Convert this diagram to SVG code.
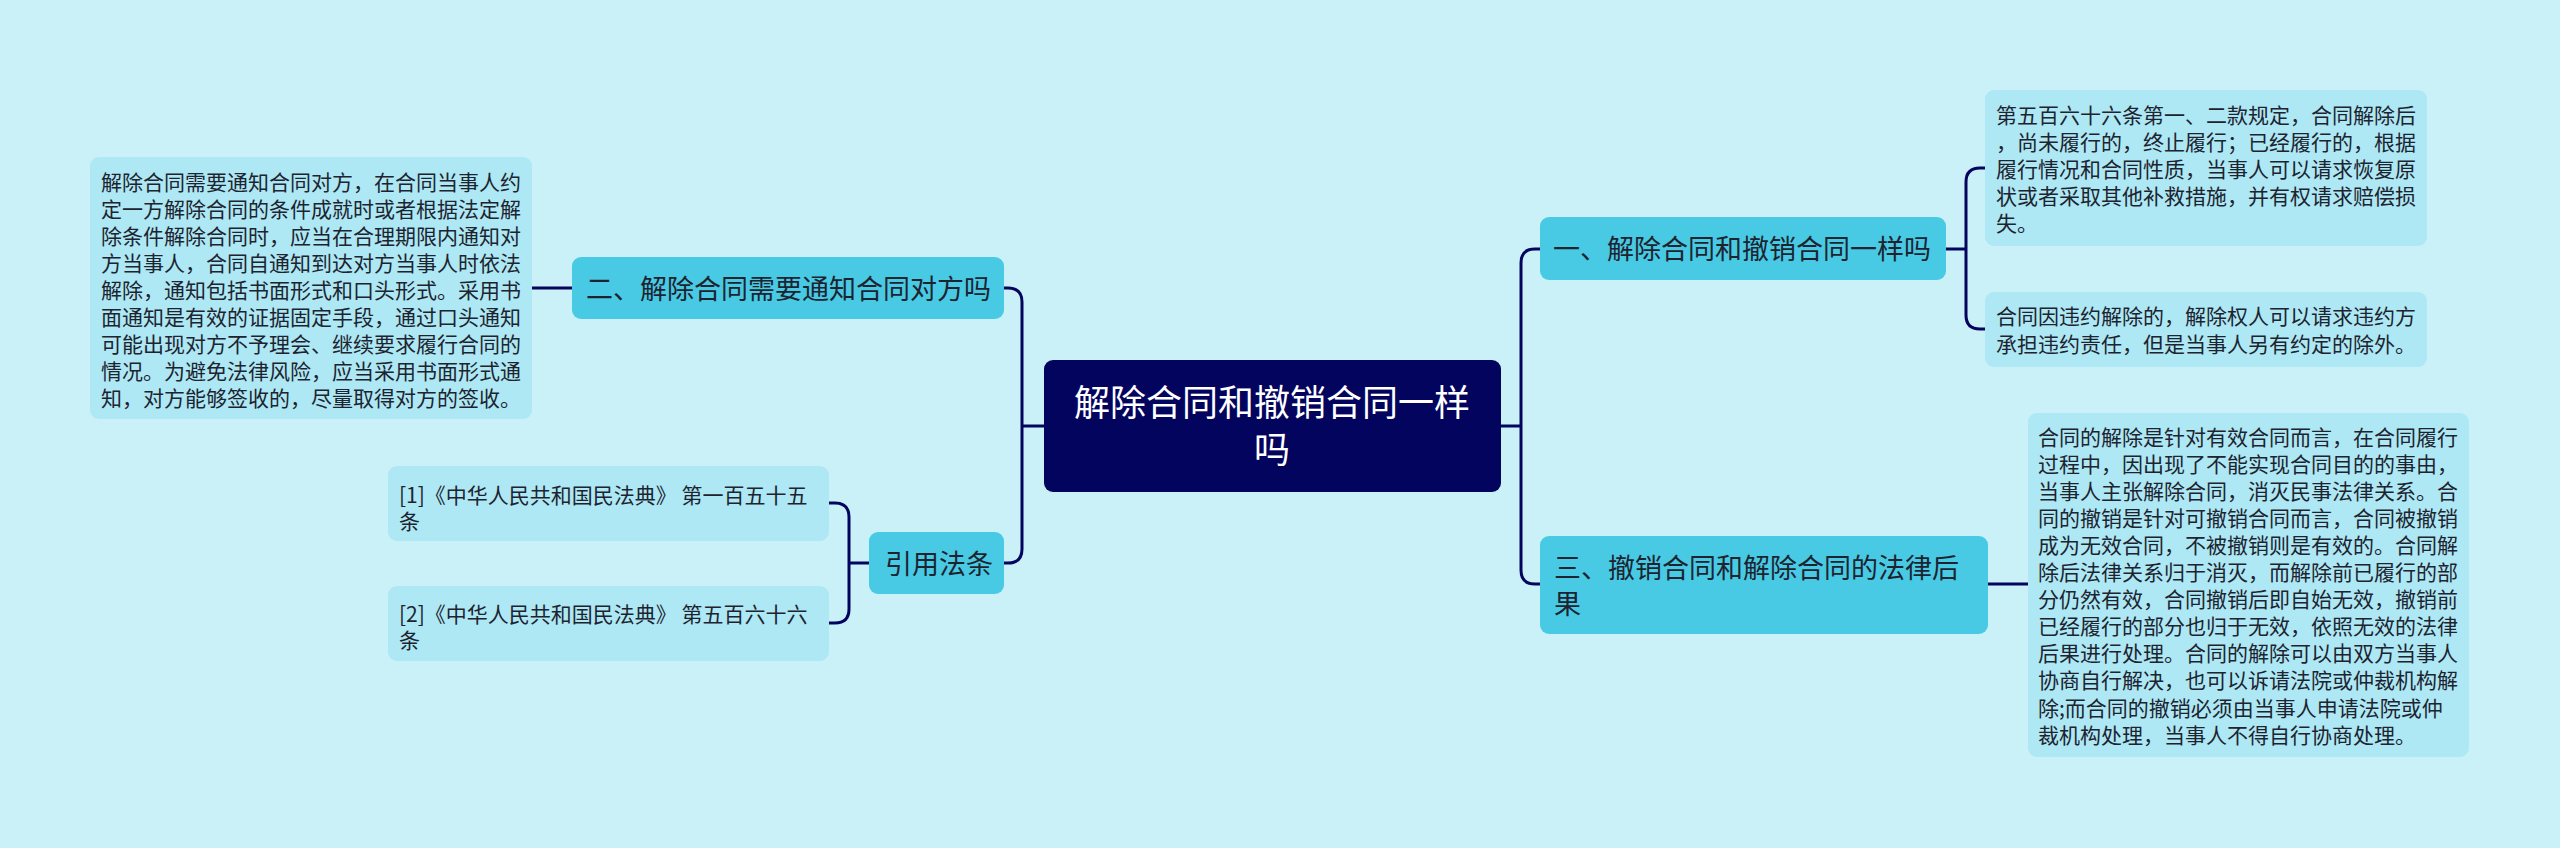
<svg xmlns="http://www.w3.org/2000/svg" width="2560" height="848" viewBox="0 0 2560 848">
<style>
text{font-family:"Noto Sans CJK SC","Microsoft YaHei",sans-serif;fill:#1d2430}
.root{fill:#03045e}
.l1{fill:#48cae4}
.d{fill:#ade8f4}
.t36{font-size:36px;fill:#ffffff}
.t27{font-size:27px}
.t21{font-size:21px}
.c{fill:none;stroke:#03045e;stroke-width:3}
</style>
<rect width="2560" height="848" fill="#caf0f8"/>
<g id="connectors">
<path class="c" d="M1004,288 H1008 Q1022,288 1022,302 V549 Q1022,563 1008,563 H1004 M1022,426 H1044"/>
<path class="c" d="M1541,249 H1535 Q1521,249 1521,263 V570 Q1521,584 1535,584 H1541 M1501,426 H1521"/>
<path class="c" d="M1946,249 H1966 M1985,168 H1980 Q1966,168 1966,182 V315 Q1966,329 1980,329 H1985"/>
<path class="c" d="M1988,584 H2028"/>
<path class="c" d="M532,288 H572"/>
<path class="c" d="M869,563 H849 M829,503 H835 Q849,503 849,517 V609 Q849,623 835,623 H829"/>
</g>
<g id="root">
<rect class="root" x="1044" y="360" width="457" height="132" rx="9"/>
<text class="t36" x="1272" y="416" text-anchor="middle">解除合同和撤销合同一样</text>
<text class="t36" x="1272" y="463" text-anchor="middle">吗</text>
</g>
<g id="n1">
<rect class="l1" x="1540" y="217" width="406" height="63" rx="9"/>
<text class="t27" x="1553" y="259">一、解除合同和撤销合同一样吗</text>
</g>
<g id="n2">
<rect class="l1" x="572" y="257" width="432" height="62" rx="9"/>
<text class="t27" x="586" y="299">二、解除合同需要通知合同对方吗</text>
</g>
<g id="n3">
<rect class="l1" x="1540" y="536" width="448" height="98" rx="9"/>
<text class="t27" x="1554" y="578">三、撤销合同和解除合同的法律后</text>
<text class="t27" x="1554" y="614">果</text>
</g>
<g id="n4">
<rect class="l1" x="869" y="532" width="135" height="62" rx="9"/>
<text class="t27" x="885" y="574">引用法条</text>
</g>
<g id="d1">
<rect class="d" x="1985" y="90" width="442" height="156" rx="9"/>
<text class="t21" x="1996" y="122.5">第五百六十六条第一、二款规定，合同解除后</text>
<text class="t21" x="1996" y="149.5">，尚未履行的，终止履行；已经履行的，根据</text>
<text class="t21" x="1996" y="176.5">履行情况和合同性质，当事人可以请求恢复原</text>
<text class="t21" x="1996" y="203.5">状或者采取其他补救措施，并有权请求赔偿损</text>
<text class="t21" x="1996" y="230.5">失。</text>
</g>
<g id="d2">
<rect class="d" x="1985" y="292" width="442" height="75" rx="9"/>
<text class="t21" x="1996" y="324">合同因违约解除的，解除权人可以请求违约方</text>
<text class="t21" x="1996" y="351.5">承担违约责任，但是当事人另有约定的除外。</text>
</g>
<g id="d3">
<rect class="d" x="2028" y="413" width="441" height="344" rx="9"/>
<text class="t21" x="2038" y="444.5">合同的解除是针对有效合同而言，在合同履行</text>
<text class="t21" x="2038" y="471.6">过程中，因出现了不能实现合同目的的事由，</text>
<text class="t21" x="2038" y="498.7">当事人主张解除合同，消灭民事法律关系。合</text>
<text class="t21" x="2038" y="525.8">同的撤销是针对可撤销合同而言，合同被撤销</text>
<text class="t21" x="2038" y="552.9">成为无效合同，不被撤销则是有效的。合同解</text>
<text class="t21" x="2038" y="580">除后法律关系归于消灭，而解除前已履行的部</text>
<text class="t21" x="2038" y="607.1">分仍然有效，合同撤销后即自始无效，撤销前</text>
<text class="t21" x="2038" y="634.2">已经履行的部分也归于无效，依照无效的法律</text>
<text class="t21" x="2038" y="661.3">后果进行处理。合同的解除可以由双方当事人</text>
<text class="t21" x="2038" y="688.4">协商自行解决，也可以诉请法院或仲裁机构解</text>
<text class="t21" x="2038" y="715.5">除;而合同的撤销必须由当事人申请法院或仲</text>
<text class="t21" x="2038" y="742.6">裁机构处理，当事人不得自行协商处理。</text>
</g>
<g id="d4">
<rect class="d" x="90" y="157" width="442" height="262" rx="9"/>
<text class="t21" x="101" y="189.5">解除合同需要通知合同对方，在合同当事人约</text>
<text class="t21" x="101" y="216.5">定一方解除合同的条件成就时或者根据法定解</text>
<text class="t21" x="101" y="243.5">除条件解除合同时，应当在合理期限内通知对</text>
<text class="t21" x="101" y="270.5">方当事人，合同自通知到达对方当事人时依法</text>
<text class="t21" x="101" y="297.5">解除，通知包括书面形式和口头形式。采用书</text>
<text class="t21" x="101" y="324.5">面通知是有效的证据固定手段，通过口头通知</text>
<text class="t21" x="101" y="351.5">可能出现对方不予理会、继续要求履行合同的</text>
<text class="t21" x="101" y="378.5">情况。为避免法律风险，应当采用书面形式通</text>
<text class="t21" x="101" y="405.5">知，对方能够签收的，尽量取得对方的签收。</text>
</g>
<g id="d5">
<rect class="d" x="388" y="466" width="441" height="75" rx="9"/>
<text class="t21" x="399" y="502.5">[1]《中华人民共和国民法典》 第一百五十五</text>
<text class="t21" x="399" y="528.5">条</text>
</g>
<g id="d6">
<rect class="d" x="388" y="586" width="441" height="75" rx="9"/>
<text class="t21" x="399" y="621.5">[2]《中华人民共和国民法典》 第五百六十六</text>
<text class="t21" x="399" y="647.5">条</text>
</g>
</svg>
